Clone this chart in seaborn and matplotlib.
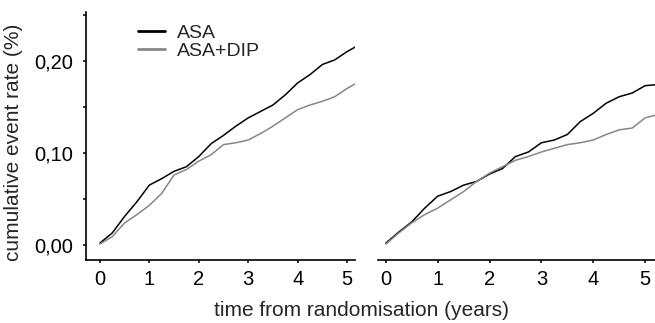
import numpy as np
import pandas as pd
import matplotlib
matplotlib.use("Agg")
import matplotlib.pyplot as plt
import seaborn as sns

# ---- data ----
years = [0, 0.25, 0.5, 0.75, 1, 1.25, 1.5, 1.75, 2, 2.25, 2.5, 2.75, 3,
         3.25, 3.5, 3.75, 4, 4.25, 4.5, 4.75, 5, 5.2]
left_asa = [0.002, 0.013, 0.031, 0.047, 0.065, 0.072, 0.080, 0.085, 0.096, 0.110,
            0.119, 0.129, 0.138, 0.145, 0.152, 0.163, 0.176, 0.185, 0.196, 0.201,
            0.210, 0.216]
left_dip = [0.001, 0.009, 0.024, 0.033, 0.043, 0.056, 0.076, 0.082, 0.091, 0.098,
            0.109, 0.111, 0.114, 0.121, 0.129, 0.138, 0.147, 0.152, 0.156, 0.161,
            0.170, 0.176]
right_asa = [0.002, 0.014, 0.025, 0.040, 0.053, 0.058, 0.065, 0.069, 0.077, 0.083,
             0.096, 0.101, 0.111, 0.114, 0.120, 0.134, 0.143, 0.154, 0.161, 0.165,
             0.173, 0.174]
right_dip = [0.001, 0.013, 0.024, 0.033, 0.040, 0.049, 0.058, 0.069, 0.078, 0.085,
             0.092, 0.096, 0.101, 0.105, 0.109, 0.111, 0.114, 0.120, 0.125, 0.127,
             0.138, 0.141]
series_names = ["ASA", "ASA+DIP"]
x_ticks = [0, 1, 2, 3, 4, 5]
y_ticks = [0.0, 0.10, 0.20]
y_tick_labels = ["0,00", "0,10", "0,20"]
y_minor = [0.05, 0.15, 0.25]

sns.set_style("ticks")
plt.rcParams["font.family"] = ["Liberation Sans", "DejaVu Sans"]

def make_df(a, d):
    return pd.DataFrame({
        "t": years + years,
        "rate": a + d,
        "group": [series_names[0]] * len(years) + [series_names[1]] * len(years),
    })

palette = {"ASA": "#000000", "ASA+DIP": "#878787"}
TICK_FS = 14.5
LABEL_FS = 15
LEG_FS = 14

fig = plt.figure(figsize=(6.55, 3.23), dpi=100)
ax1 = fig.add_axes([86 / 655, 1 - 260 / 323, (355 - 86) / 655, (260 - 12) / 323])
ax2 = fig.add_axes([378 / 655, 1 - 260 / 323, (655 - 378) / 655, (260 - 12) / 323])

for ax, a, d in [(ax1, left_asa, left_dip), (ax2, right_asa, right_dip)]:
    sns.lineplot(data=make_df(a, d), x="t", y="rate", hue="group", palette=palette,
                 ax=ax, linewidth=1.1, legend=(ax is ax1), estimator=None)
    ax.set_ylim(-0.0163, 0.253)
    ax.set_xticks(x_ticks)
    ax.set_xticklabels([str(v) for v in x_ticks], fontsize=TICK_FS)
    ax.set_xlabel("")
    ax.set_ylabel("")
    ax.tick_params(axis="x", length=2.5, width=1.1, pad=5, colors="black")
    for s in ["top", "right"]:
        ax.spines[s].set_visible(False)
    ax.spines["bottom"].set_linewidth(1.2)
    ax.spines["bottom"].set_color("black")

ax1.set_xlim(-0.28, 5.16)
ax2.set_xlim(-0.15, 5.19)

ax1.set_yticks(y_ticks)
ax1.set_yticklabels(y_tick_labels, fontsize=TICK_FS)
ax1.set_yticks(y_minor, minor=True)
ax1.tick_params(axis="y", which="both", length=2.5, width=1.1, pad=7, colors="black")
ax1.spines["left"].set_linewidth(1.2)
ax1.spines["left"].set_color("black")

ax2.spines["left"].set_visible(False)
ax2.set_yticks([])

leg = ax1.legend(loc="upper left", bbox_to_anchor=(0.193, 0.95), frameon=False,
                 fontsize=LEG_FS, handlelength=1.4, handletextpad=0.6,
                 labelspacing=0.0, borderaxespad=0, borderpad=0)
for line in leg.get_lines():
    line.set_linewidth(2.0)

fig.text(14 / 655, 1 - 142 / 323, "cumulative event rate (%)", rotation=90,
         ha="center", va="center", fontsize=LABEL_FS)
fig.text(361 / 655, 1 - 310 / 323, "time from randomisation (years)",
         ha="center", va="center", fontsize=LABEL_FS)

fig.savefig("out.png", dpi=100)
